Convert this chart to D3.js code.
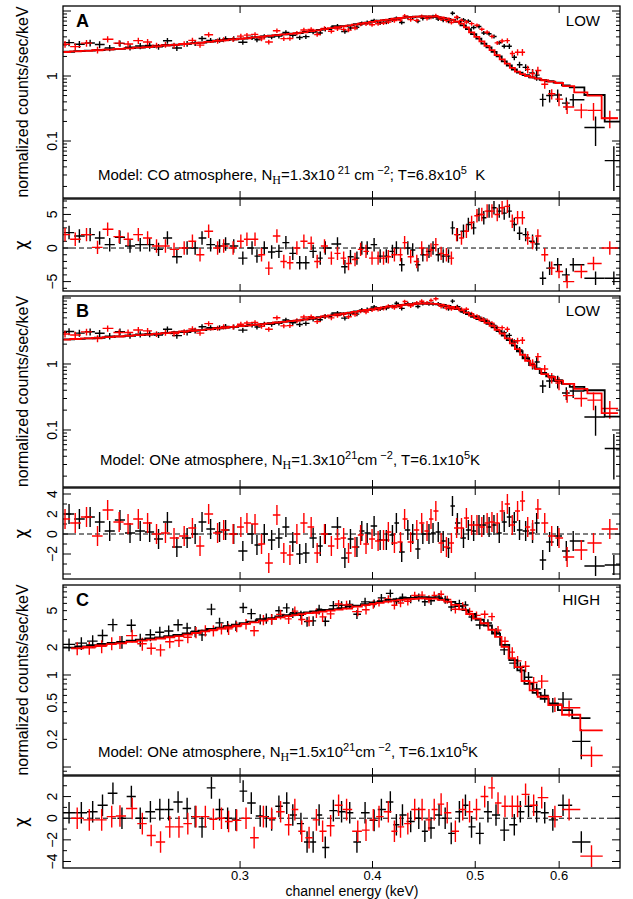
<!DOCTYPE html>
<html>
<head>
<meta charset="utf-8">
<script src="https://cdn.jsdelivr.net/npm/d3@7"></script>
<style>
  body { margin: 0; background: #fff; }
  svg text { font-family: "Liberation Sans", Arial, Helvetica, sans-serif; }
</style>
</head>
<body>
<svg id="spectra" width="633" height="899"></svg>
<script>
// ---- LOW state spectrum (same data in panels A and B) ----
const lowEnergyBlack = [0.2069,0.2116,0.2166,0.2211,0.2260,0.2311,0.2362,0.2415,0.2465,0.2513,
  0.2562,0.2615,0.2674,0.2721,0.2762,0.2814,0.2869,0.2907,0.2959,0.3018,
  0.3079,0.3112,0.3162,0.3213,0.3264,0.3314,0.3364,0.3415,0.3461,0.3516,
  0.3571,0.3610,0.3707,0.3767,0.3813,0.3867,0.3908,0.3954,0.4014,0.4067,
  0.4122,0.4177,0.4213,0.4262,0.4319,0.4365,0.4415,0.4462,0.4522,0.4562,
  0.4614,0.4664,0.4718,0.4759,0.4810,0.4874,0.4926,0.4983,0.5041,0.5094,
  0.5153,0.5208,0.5268,0.5325,0.5385,0.5443,0.5505,0.5579,0.5663,0.5714,
  0.5790,0.5877,0.5981,0.6094,0.6186,0.6494,0.6757];
const lowErrBlack = [0.12,0.12,0.12,0.12,0.11,0.11,0.11,0.11,0.11,0.10,
  0.10,0.10,0.10,0.10,0.09,0.09,0.09,0.09,0.09,0.09,
  0.08,0.08,0.08,0.08,0.08,0.08,0.08,0.08,0.08,0.08,
  0.08,0.08,0.075,0.075,0.075,0.075,0.075,0.075,0.07,0.07,
  0.07,0.07,0.07,0.07,0.07,0.07,0.07,0.07,0.07,0.07,
  0.07,0.07,0.07,0.07,0.07,0.07,0.07,0.07,0.07,0.07,
  0.07,0.07,0.07,0.08,0.09,0.10,0.11,0.12,0.15,0.18,
  0.22,0.22,0.22,0.22,0.22,0.48,0.66];
const lowEnergyRed = [0.2051,0.2097,0.2149,0.2201,0.2250,0.2307,0.2352,0.2405,0.2454,0.2502,
  0.2551,0.2599,0.2657,0.2705,0.2750,0.2802,0.2857,0.2895,0.2955,0.3005,
  0.3045,0.3099,0.3143,0.3193,0.3250,0.3299,0.3343,0.3394,0.3446,0.3501,
  0.3547,0.3604,0.3658,0.3707,0.3757,0.3797,0.3851,0.3898,0.3944,0.3996,
  0.4049,0.4097,0.4140,0.4195,0.4251,0.4289,0.4346,0.4404,0.4451,0.4503,
  0.4542,0.4590,0.4643,0.4697,0.4748,0.4802,0.4853,0.4905,0.4961,0.5019,
  0.5072,0.5131,0.5185,0.5245,0.5301,0.5362,0.5419,0.5482,0.5540,0.5604,
  0.5664,0.5729,0.5815,0.5904,0.5998,0.6105,0.6296,0.6465,0.6698];
const lowErrRed = [0.12,0.12,0.12,0.12,0.11,0.11,0.11,0.11,0.11,0.10,
  0.10,0.10,0.10,0.10,0.09,0.09,0.09,0.09,0.09,0.09,
  0.08,0.08,0.08,0.08,0.08,0.08,0.08,0.08,0.08,0.08,
  0.08,0.08,0.075,0.075,0.075,0.075,0.075,0.075,0.075,0.07,
  0.07,0.07,0.07,0.07,0.07,0.07,0.07,0.07,0.07,0.07,
  0.07,0.07,0.07,0.07,0.07,0.07,0.07,0.07,0.07,0.07,
  0.07,0.07,0.07,0.07,0.08,0.09,0.10,0.11,0.12,0.14,
  0.16,0.14,0.15,0.18,0.22,0.22,0.25,0.30,0.30];

// panel A: CO atmosphere model and residuals
const modelA_black = [2.36,2.41,2.45,2.50,2.56,2.62,2.68,2.74,2.80,2.88,
  2.96,3.04,3.13,3.21,3.27,3.38,3.48,3.56,3.65,3.76,
  3.88,3.95,4.06,4.17,4.28,4.39,4.49,4.59,4.75,4.95,
  5.14,5.27,5.62,5.84,6.01,6.26,6.44,6.62,6.88,7.10,
  7.32,7.53,7.67,7.84,7.98,8.09,8.20,8.24,8.22,8.16,
  8.04,7.85,7.58,7.30,6.80,6.00,5.25,4.40,3.75,3.15,
  2.75,2.35,2.00,1.68,1.45,1.26,1.13,1.03,0.95,0.92,
  0.87,0.83,0.79,0.72,0.67,0.51,0.198];
const chiA_black = [2.3,1.8,2.0,1.5,0.5,1.6,0.3,0.5,0.5,-0.2,
  1.5,-1.3,0,0,1.5,0.5,0.3,0.6,0.3,-1.5,
  0,-1.2,0,-0.6,-0.5,0.8,-0.8,-2.2,-2.2,-0.5,
  -1.5,0,0.6,-2.8,-1.3,-1.5,0,0,0.5,-1.2,
  -1.2,-0.5,0,-2.5,0,-0.3,-2.5,-1.0,-0.5,0,
  -1.0,-1.2,-1.2,3.0,2.0,2.5,3.5,3.0,5.0,4.5,
  5.5,6.0,5.5,5.2,5.5,3.5,2.2,2.0,1.0,0.6,
  -4.5,-3.0,-2.5,-4.0,-2.5,-4.5,-4.5];
const modelA_red = [2.34,2.39,2.44,2.49,2.55,2.61,2.67,2.73,2.79,2.86,
  2.94,3.02,3.11,3.18,3.25,3.35,3.46,3.53,3.65,3.74,
  3.81,3.92,4.02,4.13,4.25,4.36,4.45,4.55,4.70,4.90,
  5.05,5.25,5.44,5.62,5.81,5.95,6.18,6.39,6.58,6.80,
  7.03,7.22,7.39,7.60,7.80,7.90,8.04,8.18,8.25,8.23,
  8.22,8.17,7.95,7.68,7.35,6.90,6.40,5.60,4.70,4.00,
  3.40,2.90,2.50,2.10,1.80,1.55,1.33,1.17,1.07,1.00,
  0.95,0.91,0.86,0.82,0.78,0.70,0.56,0.50,0.224];
const chiA_red = [2.0,1.3,2.0,0.1,2.8,1.7,1.3,2.0,1.5,0.3,
  0.3,-0.2,0,1.0,-1.0,2.5,0,0.3,0,1.0,
  1.3,1.3,-1.0,-3.0,1.8,-2.0,-2.2,0,1.0,0.7,
  -2.0,0.3,-1.5,-0.8,-1.5,-2.3,-1.7,-0.2,-0.5,-1.5,
  -1.5,-1.5,-1.3,-1.0,-1.0,0.8,-1.3,-2.0,0,-1.0,
  -0.3,0.5,-0.8,-1.0,-1.5,2.0,1.5,2.5,3.8,4.8,
  5.0,5.5,5.5,5.0,6.0,6.2,4.0,4.5,4.5,1.5,
  0.8,1.8,-1.0,-3.0,-3.5,-5.0,-3.5,-2.3,0];

// panel B: ONe atmosphere model and residuals
const modelB_black = [2.36,2.41,2.45,2.50,2.56,2.62,2.68,2.74,2.80,2.88,
  2.96,3.04,3.13,3.21,3.27,3.38,3.48,3.56,3.65,3.76,
  3.88,3.95,4.06,4.17,4.28,4.39,4.49,4.59,4.75,4.95,
  5.14,5.27,5.62,5.84,6.01,6.26,6.44,6.62,6.88,7.10,
  7.32,7.53,7.67,7.84,7.98,8.09,8.20,8.24,8.22,8.16,
  8.04,7.85,7.58,7.20,6.80,6.30,5.70,5.20,4.80,4.48,
  4.04,3.60,3.15,2.70,2.30,1.90,1.56,1.22,0.96,0.86,
  0.73,0.65,0.57,0.50,0.45,0.40,0.16];
const chiB_black = [2.0,1.5,1.7,1.2,0.3,1.4,0.1,0.3,0.2,-0.5,
  1.2,-1.3,-0.4,0,1.2,0.5,0.2,0.4,0,-1.7,
  0,-1.1,0,-0.6,-0.4,0.7,-0.8,-2.0,-1.9,-0.4,
  -1.2,0,0.7,-2.4,-0.5,-1.3,0.3,0.1,0.8,-0.6,
  -0.6,-0.1,1.1,-1.8,0.4,0,-1.5,0,0,0.1,
  0.2,-0.7,-1.4,2.8,1.1,-0.4,0.4,0.3,0.9,0.9,
  0.7,0.9,0.1,1.2,1.7,1.2,0.4,0.3,0.1,1.1,
  -2.6,-0.8,-0.2,-1.7,-0.7,-3.2,-3.1];
const modelB_red = [2.34,2.39,2.44,2.49,2.55,2.61,2.67,2.73,2.79,2.86,
  2.94,3.02,3.11,3.18,3.25,3.35,3.46,3.53,3.65,3.74,
  3.81,3.92,4.02,4.13,4.25,4.36,4.45,4.55,4.70,4.90,
  5.05,5.25,5.44,5.62,5.81,5.95,6.18,6.39,6.58,6.80,
  7.03,7.22,7.39,7.60,7.80,7.90,8.04,8.18,8.25,8.23,
  8.22,8.17,7.95,7.68,7.30,6.90,6.50,6.00,5.40,4.95,
  4.60,4.20,3.80,3.30,2.90,2.45,2.05,1.68,1.38,1.12,
  0.95,0.84,0.70,0.64,0.56,0.50,0.42,0.36,0.18];
const chiB_red = [1.5,1.1,1.7,-0.2,2.4,1.2,1.0,1.5,1.1,0,
  0.1,-0.4,-0.2,0.6,-1.2,2.0,0.1,0.4,0,0.7,
  1.1,1.0,-1.0,-2.9,1.9,-1.9,-2.1,0,1.1,0.7,
  -1.9,0,-1.2,-0.5,-0.4,-1.9,-1.3,-0.1,-1.0,-0.5,
  -0.7,-0.6,0.2,-0.9,-0.8,1.5,-0.8,0.4,1.1,0.3,
  1.5,2.3,-0.9,-1.3,-0.9,0.6,0.6,1.6,0.9,0.9,
  0.7,1.1,1.2,1.1,2.3,3.0,0.9,2.3,3.3,0.7,
  0.4,2.5,1.1,-0.2,-0.4,-2.3,-1.6,-0.9,0.5];

// ---- HIGH state spectrum (panel C) ----
const highEnergyBlack = [0.2069,0.2125,0.2178,0.2225,0.2276,0.2321,0.2369,0.2415,0.2469,0.2520,
  0.2569,0.2622,0.2674,0.2721,0.2762,0.2819,0.2869,0.2920,0.2973,0.3020,
  0.3074,0.3134,0.3176,0.3213,0.3264,0.3320,0.3364,0.3424,0.3470,0.3516,
  0.3562,0.3610,0.3674,0.3740,0.3807,0.3867,0.3936,0.4014,0.4078,0.4158,
  0.4213,0.4269,0.4346,0.4423,0.4482,0.4542,0.4622,0.4684,0.4746,0.4831,
  0.4895,0.4960,0.5050,0.5140,0.5231,0.5325,0.5443,0.5515,0.5614,0.5714,
  0.5815,0.5918,0.6051,0.6296];
const highErrBlack = [0.16,0.16,0.16,0.16,0.16,0.16,0.16,0.16,0.15,0.15,
  0.15,0.15,0.14,0.14,0.14,0.14,0.14,0.14,0.13,0.13,
  0.13,0.13,0.13,0.13,0.12,0.12,0.12,0.12,0.12,0.12,
  0.12,0.12,0.12,0.11,0.11,0.11,0.11,0.10,0.10,0.10,
  0.10,0.10,0.10,0.10,0.10,0.10,0.10,0.10,0.10,0.10,
  0.10,0.10,0.10,0.10,0.11,0.12,0.13,0.13,0.14,0.15,
  0.17,0.18,0.20,0.36];
const modelC_black = [1.98,2.04,2.11,2.17,2.23,2.29,2.36,2.42,2.49,2.56,
  2.64,2.72,2.83,2.93,3.03,3.16,3.27,3.39,3.53,3.65,
  3.80,3.95,4.05,4.15,4.33,4.46,4.57,4.71,4.80,4.90,
  4.99,5.08,5.20,5.33,5.52,5.68,5.89,6.13,6.33,6.55,
  6.67,6.78,6.88,6.98,7.00,6.98,6.85,6.60,6.24,5.60,
  5.07,4.60,3.98,3.45,2.82,2.12,1.45,1.12,0.80,0.64,
  0.55,0.49,0.415,0.34];
const chiC_black = [0.5,0.5,0.6,1.2,2.3,0,2.0,0,0.6,0.8,
  0.8,1.5,0.9,0.15,-0.8,2.8,0.8,0,-0.15,2.5,
  1.4,0.2,0.15,-0.15,1.1,1.4,0.3,-0.5,-2.2,-2.2,
  0.3,-2.7,0.7,0.6,0.5,-2.2,0.5,-0.2,0.8,1.5,
  -0.6,0.3,-0.3,0,-1.2,-0.9,0.3,0,-1.4,0.6,
  1.2,-0.8,-1.4,0.6,0.3,-1.1,-0.6,0.6,1.1,0.6,
  0.5,-0.15,1.2,-2.2];
const highEnergyRed = [0.2106,0.2162,0.2221,0.2270,0.2311,0.2373,0.2426,0.2473,0.2524,0.2575,
  0.2627,0.2678,0.2726,0.2782,0.2831,0.2881,0.2926,0.2978,0.3039,0.3093,
  0.3156,0.3213,0.3276,0.3334,0.3379,0.3430,0.3485,0.3541,0.3589,0.3652,
  0.3716,0.3781,0.3874,0.3944,0.4007,0.4057,0.4140,0.4195,0.4251,0.4319,
  0.4384,0.4455,0.4522,0.4574,0.4643,0.4705,0.4789,0.4866,0.4939,0.5014,
  0.5104,0.5185,0.5254,0.5334,0.5419,0.5482,0.5578,0.5677,0.5777,0.5945,
  0.6131,0.6437];
const highErrRed = [0.16,0.16,0.16,0.16,0.16,0.16,0.16,0.15,0.15,0.15,
  0.15,0.14,0.14,0.14,0.14,0.14,0.14,0.13,0.13,0.13,
  0.13,0.13,0.12,0.12,0.12,0.12,0.12,0.12,0.12,0.12,
  0.11,0.11,0.11,0.11,0.10,0.10,0.10,0.10,0.10,0.10,
  0.10,0.10,0.10,0.10,0.10,0.10,0.10,0.10,0.10,0.10,
  0.10,0.10,0.11,0.12,0.13,0.13,0.14,0.15,0.17,0.18,
  0.20,0.25];
const modelC_red = [1.95,2.02,2.10,2.16,2.21,2.29,2.36,2.42,2.49,2.57,
  2.65,2.75,2.86,2.98,3.09,3.20,3.30,3.44,3.59,3.73,
  3.90,4.05,4.23,4.36,4.47,4.58,4.69,4.80,4.89,5.00,
  5.12,5.26,5.53,5.73,5.93,6.08,6.28,6.42,6.55,6.64,
  6.72,6.79,6.77,6.74,6.55,6.28,5.79,5.17,4.60,4.09,
  3.65,3.10,2.60,2.02,1.52,1.22,0.86,0.68,0.58,0.47,
  0.37,0.25];
const chiC_red = [0,-0.15,-0.15,0.15,0.2,0.9,-0.5,-1.6,-2.2,-0.8,
  -0.8,-0.5,0.15,0.15,-0.1,0,-0.3,-0.2,0,-1.8,
  0.15,0,0.6,-0.6,0.8,-1.2,-1.8,-0.15,-1.2,-0.7,
  1.2,0.8,-1.2,-1.1,-0.15,0.15,0.6,-1.2,-0.8,-0.5,
  0.8,0.8,-0.15,0.8,1.3,0.5,-1.2,0.8,0.6,0.8,
  2.0,2.8,1.4,1.1,1.1,1.1,2.2,1.2,1.9,0.15,
  0.8,-3.5];

// ---- ticks and labels ----
const xTickValues = [0.3, 0.4, 0.5, 0.6];
const specLabelsLow = [0.1, 1];
const specLabelsHigh = [0.2, 0.5, 1, 2, 5];
const resLabelsA = [-5, 0, 5];
const resLabelsB = [-2, 0, 2, 4];
const resLabelsC = [-4, -2, 0, 2];
const panelLetters = ['A', 'B', 'C'];
const panelStates = ['LOW', 'LOW', 'HIGH'];
// text pieces: 0 normal, -1 subscript, 1 superscript
const noteA = [['Model: CO atmosphere, N', 0], ['H', -1], ['=1.3x10', 0], [' 21', 1], [' cm', 0], [' \u22122', 1], ['; T=6.8x10', 0], ['5', 1], ['  K', 0]];
const noteB = [['Model: ONe atmosphere, N', 0], ['H', -1], ['=1.3x10', 0], ['21', 1], ['cm', 0], [' \u22122', 1], [', T=6.1x10', 0], ['5', 1], ['K', 0]];
const noteC = [['Model: ONe atmosphere, N', 0], ['H', -1], ['=1.5x10', 0], ['21', 1], ['cm', 0], [' \u22122', 1], [', T=6.1x10', 0], ['5', 1], ['K', 0]];

const svg = d3.select('#spectra');
const X0 = 63, X1 = 620;
const x = d3.scaleLog().domain([0.2042, 0.6848]).range([X0, X1]);
const fmt = v => String(v).replace('-', '\u2212');

const panels = [
  { spec: [6, 198], specDom: [0.01328, 11.94], res: [199, 291], resDom: [-6.4, 7.3], resMajor: 5,
    specLabels: specLabelsLow, resLabels: resLabelsA, note: noteA, noteX: 98, noteY: 180,
    black: { E: lowEnergyBlack, err: lowErrBlack, model: modelA_black, chi: chiA_black },
    red: { E: lowEnergyRed, err: lowErrRed, model: modelA_red, chi: chiA_red } },
  { spec: [296, 487], specDom: [0.01369, 10.72], res: [488, 579], resDom: [-4.5, 4.6], resMajor: 2,
    specLabels: specLabelsLow, resLabels: resLabelsB, note: noteB, noteX: 100, noteY: 465,
    black: { E: lowEnergyBlack, err: lowErrBlack, model: modelB_black, chi: chiB_black },
    red: { E: lowEnergyRed, err: lowErrRed, model: modelB_red, chi: chiB_red } },
  { spec: [585, 775], specDom: [0.0819, 9.50], res: [776, 868], resDom: [-4.6, 3.9], resMajor: 2,
    specLabels: specLabelsHigh, resLabels: resLabelsC, note: noteC, noteX: 98, noteY: 757,
    black: { E: highEnergyBlack, err: highErrBlack, model: modelC_black, chi: chiC_black },
    red: { E: highEnergyRed, err: highErrRed, model: modelC_red, chi: chiC_red } }
];

function binEdges(E) {
  const n = E.length, ed = new Array(n + 1);
  for (let i = 1; i < n; i++) ed[i] = Math.sqrt(E[i - 1] * E[i]);
  ed[0] = E[0] * E[0] / ed[1];
  ed[n] = E[n - 1] * E[n - 1] / ed[n - 1];
  return ed;
}

// chi = (data - model) / error, error = err * data
function rows(s) {
  const ed = binEdges(s.E);
  return s.E.map((e, i) => ({
    e, lo: ed[i], hi: ed[i + 1], err: s.err[i], m: s.model[i], chi: s.chi[i],
    v: s.model[i] / (1 - s.chi[i] * s.err[i])
  }));
}

let clipCount = 0;
function clip(top, bottom) {
  const id = 'clip' + (clipCount++);
  svg.append('clipPath').attr('id', id).append('rect')
    .attr('x', X0).attr('y', top).attr('width', X1 - X0).attr('height', bottom - top);
  return 'url(#' + id + ')';
}

function xTicks(g, top, bottom) {
  xTickValues.forEach(v => {
    g.append('line').attr('x1', x(v)).attr('x2', x(v)).attr('y1', bottom).attr('y2', bottom - 7);
    g.append('line').attr('x1', x(v)).attr('x2', x(v)).attr('y1', top).attr('y2', top + 7);
  });
}

function yTick(g, yy, len) {
  g.append('line').attr('x1', X0).attr('x2', X0 + len).attr('y1', yy).attr('y2', yy);
  g.append('line').attr('x1', X1).attr('x2', X1 - len).attr('y1', yy).attr('y2', yy);
}

function sideLabel(txt, yy, size, xx, family) {
  const t = svg.append('text').attr('transform', `translate(${xx},${yy}) rotate(-90)`)
    .attr('text-anchor', 'middle').style('font-size', size + 'px').text(txt);
  if (family) t.style('font-family', family);
}

function frame(top, bottom) {
  svg.append('rect').attr('x', X0).attr('y', top).attr('width', X1 - X0).attr('height', bottom - top)
    .attr('fill', 'none').attr('stroke', '#000').attr('stroke-width', 1.3);
}

function drawSpectrum(p, i) {
  const [top, bottom] = p.spec;
  const y = d3.scaleLog().domain(p.specDom).range([bottom, top]);
  const ax = svg.append('g').attr('stroke', '#000').attr('stroke-width', 1);
  y.ticks().forEach(v => {
    const lg = Math.log10(v);
    yTick(ax, y(v), Math.abs(lg - Math.round(lg)) < 1e-9 ? 8 : 4);
  });
  xTicks(ax, top, bottom);
  p.specLabels.forEach(v => sideLabel(String(v), y(v), 14, 57));
  sideLabel('normalized counts/sec/keV', (top + bottom) / 2, 16, 28);

  const g = svg.append('g').attr('clip-path', clip(top, bottom)).attr('fill', 'none');
  const sets = [[rows(p.black), '#000'], [rows(p.red), '#ff0000']];
  sets.forEach(([rs, col]) => {
    g.append('g').attr('stroke', col).attr('stroke-width', 1.4)
      .selectAll('path').data(rs).join('path')
      .attr('d', d => `M${x(d.lo)},${y(d.v)}H${x(d.hi)}M${x(d.e)},${y(d.v * (1 - d.err))}V${y(d.v * (1 + d.err))}`);
  });
  const step = d3.line().curve(d3.curveStepAfter).x(d => x(d[0])).y(d => y(d[1]));
  sets.forEach(([rs, col]) => {
    const pts = rs.map(d => [d.lo, d.m]);
    pts.push([rs[rs.length - 1].hi, rs[rs.length - 1].m]);
    g.append('path').attr('d', step(pts)).attr('stroke', col).attr('stroke-width', 1.8);
  });
  frame(top, bottom);

  svg.append('text').attr('x', 76).attr('y', top + 21).style('font-size', '18px')
    .style('font-weight', 'bold').text(panelLetters[i]);
  svg.append('text').attr('x', 600).attr('y', top + 20).attr('text-anchor', 'end')
    .style('font-size', '15px').text(panelStates[i]);

  const note = svg.append('text').attr('x', p.noteX).attr('y', p.noteY)
    .style('font-size', '15px').style('white-space', 'pre');
  const shift = { '0': 0, '1': -6, '-1': 4 };
  let level = 0;
  p.note.forEach(([s, l]) => {
    const ts = note.append('tspan').text(s).attr('dy', shift[l] - shift[level]);
    if (l !== 0) ts.style('font-size', '11px');
    if (l === -1) ts.style('font-family', '"Liberation Serif", "Times New Roman", serif').style('font-size', '12px');
    level = l;
  });
}

function drawResiduals(p) {
  const [top, bottom] = p.res;
  const r = d3.scaleLinear().domain(p.resDom).range([bottom, top]);
  const ax = svg.append('g').attr('stroke', '#000').attr('stroke-width', 1);
  for (let v = Math.ceil(p.resDom[0]); v <= Math.floor(p.resDom[1]); v++) {
    yTick(ax, r(v), v % p.resMajor === 0 ? 8 : 4);
  }
  xTicks(ax, top, bottom);
  p.resLabels.forEach(v => sideLabel(fmt(v), r(v), 14, 57));
  sideLabel('\u03c7', (top + bottom) / 2, 17, 27, '"DejaVu Sans", sans-serif');

  svg.append('line').attr('x1', X0).attr('x2', X1).attr('y1', r(0)).attr('y2', r(0))
    .attr('stroke', '#000').attr('stroke-width', 1).attr('stroke-dasharray', '5,3');

  const g = svg.append('g').attr('clip-path', clip(top, bottom)).attr('fill', 'none');
  [[rows(p.black), '#000'], [rows(p.red), '#ff0000']].forEach(([rs, col]) => {
    g.append('g').attr('stroke', col).attr('stroke-width', 1.4)
      .selectAll('path').data(rs).join('path')
      .attr('d', d => `M${x(d.lo)},${r(d.chi)}H${x(d.hi)}M${x(d.e)},${r(d.chi - 1)}V${r(d.chi + 1)}`);
  });
  frame(top, bottom);
}

panels.forEach((p, i) => { drawSpectrum(p, i); drawResiduals(p); });

// x axis labels under the last panel
const last = panels[panels.length - 1].res[1];
xTickValues.forEach(v => {
  svg.append('text').attr('x', x(v)).attr('y', last + 12).attr('text-anchor', 'middle')
    .style('font-size', '13px').text(v);
});
svg.append('text').attr('x', 352).attr('y', last + 28).attr('text-anchor', 'middle')
  .style('font-size', '14px').text('channel energy (keV)');
</script>
</body>
</html>
